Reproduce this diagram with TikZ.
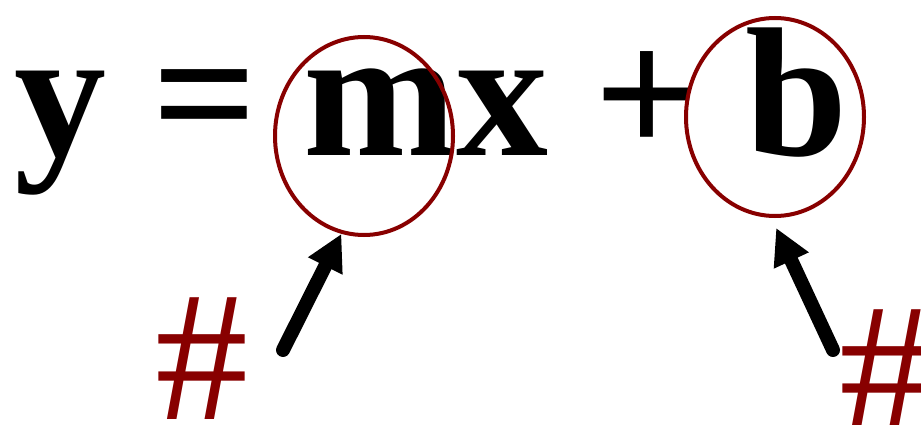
\documentclass[tikz,border=0pt]{standalone}
\usepackage{fontspec}
\setmainfont{Liberation Serif}
\usepackage{xcolor}
\usetikzlibrary{arrows.meta, shapes.geometric}
\definecolor{maroon}{RGB}{136,0,0}

\begin{document}
\begin{tikzpicture}[x=1pt, y=-1pt,
    ring/.style={ellipse, draw=maroon, line width=4pt,
                 minimum width=178pt, minimum height=198pt, inner sep=0pt},
    pointer/.style={-{Triangle[length=36pt, width=36pt]}, line width=14pt,
                    line cap=round},
    hashmark/.style={text=maroon, anchor=base west,
                     font=\fontsize{186}{186}\selectfont}]
  \useasboundingbox (0,0) rectangle (921,425);
  % ---- equation ----
  \node[anchor=base west, inner sep=0pt,
        font=\fontsize{184}{184}\selectfont\bfseries] (eqn) at (14,156)
    {y = mx + b};
  % ---- rings round slope and intercept ----
  \node[ring] (ringm) at (364,136) {};
  \node[ring] (ringb) at (775,117) {};
  % ---- number marks ----
  \node[hashmark, inner sep=0pt] (hashm) at (155,419) {\#};
  \node[hashmark, inner sep=0pt] (hashb) at (839,431) {\#};
  % ---- arrows: tails sit beside the marks ----
  \coordinate (tailm) at (283,350);
  \coordinate (tailb) at (833,350);
  \draw[pointer] (tailm) -- (ringm.-103);
  \draw[pointer, shorten >=11pt] (tailb) -- (ringb.-92);
\end{tikzpicture}
\end{document}
